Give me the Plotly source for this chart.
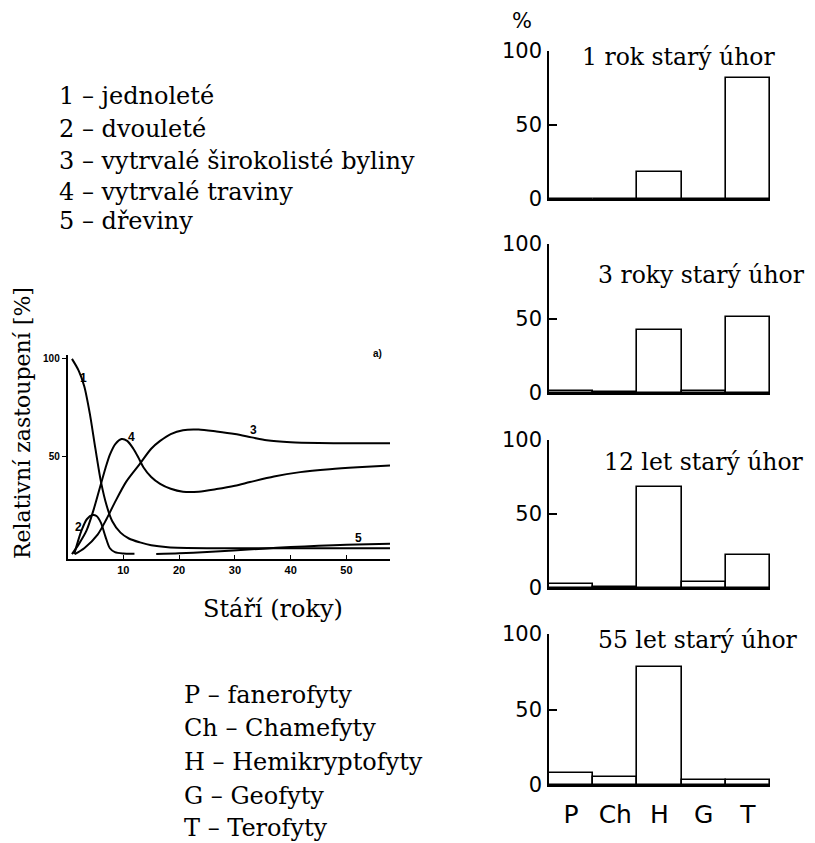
import plotly.graph_objects as go

W, H = 815, 843
OFF = 8  # page body margin
def px(x): return (x - OFF) / W
def py(y): return 1 - (y - OFF) / H

# ---- line chart data (years, relative %) ----
c1_x = [0.8, 2.0, 3.0, 4.0, 5.0, 6.0, 7.0, 8.0, 9.5, 11.0, 13.0, 15.0, 18.0, 25.0, 35.0, 45.0, 57.8]
c1_y = [100, 94, 86, 72, 54, 37, 25, 17, 11, 8, 6, 4.5, 3.5, 3, 3, 3, 3]
c2_x = [1.2, 2.5, 3.5, 4.5, 5.2, 6.0, 6.8, 7.6, 8.5, 10.0, 12.0]
c2_y = [0, 12, 18, 20, 19.5, 16, 9, 3, 1, 0.3, 0.2]
c3_x = [1.3, 3.0, 5.4, 7.0, 8.4, 10.5, 12.9, 15.0, 16.6, 18.5, 20.7, 23.5, 26.7, 30.0, 33.0, 35.7, 40.0, 45.0, 50.0, 57.8]
c3_y = [0, 3, 10, 18, 26, 37, 46, 54, 58, 61.5, 63.5, 63.8, 62.8, 61.5, 59.8, 58.3, 57.3, 56.9, 56.8, 56.8]
c4_x = [0.8, 2.0, 3.4, 4.6, 5.8, 6.8, 7.6, 8.6, 9.7, 10.7, 11.8, 12.7, 13.6, 15.0, 16.6, 18.5, 20.7, 23.5, 26.7, 30.0, 32.7, 37.0, 41.7, 47.0, 52.0, 57.8]
c4_y = [0, 5, 12, 22, 34, 44, 51, 56.5, 59, 58, 54, 49.5, 44.5, 39.5, 36, 33.5, 32, 32, 33.3, 35, 36.9, 39.8, 42, 43.5, 44.5, 45.4]
c5_x = [15.9, 20.0, 25.0, 29.7, 35.0, 40.0, 45.0, 50.0, 57.8]
c5_y = [0, 0.4, 1.1, 1.9, 2.8, 3.6, 4.3, 4.8, 5.3]

line_xticks = [10, 20, 30, 40, 50]
line_yticks = [50, 100]

# ---- bar chart data ----
categories = ["P", "Ch", "H", "G", "T"]
bars_1yr = [0, 0, 18, 0, 82]
bars_3yr = [1.5, 1, 42, 1.5, 51]
bars_12yr = [3, 1, 68, 4, 22]
bars_55yr = [8, 5.5, 78, 3, 3]
bar_titles = ["1 rok starý úhor", "3 roky starý úhor", "12 let starý úhor", "55 let starý úhor"]
bar_ticks = [0, 50, 100]

legend_life = ["1 – jednoleté", "2 – dvouleté", "3 – vytrvalé širokolisté byliny",
               "4 – vytrvalé traviny", "5 – dřeviny"]
legend_forms = ["P – fanerofyty", "Ch – Chamefyty", "H – Hemikryptofyty", "G – Geofyty", "T – Terofyty"]

SERIF = "DejaVu Serif"
SANS = "DejaVu Sans"

fig = go.Figure()

line_style = dict(color="black", width=2, shape="spline", smoothing=0.8)
for xs, ys in [(c1_x, c1_y), (c2_x, c2_y), (c3_x, c3_y), (c4_x, c4_y), (c5_x, c5_y)]:
    fig.add_trace(go.Scatter(x=xs, y=ys, mode="lines", line=line_style,
                             xaxis="x", yaxis="y", showlegend=False, hoverinfo="skip"))

bar_sets = [bars_1yr, bars_3yr, bars_12yr, bars_55yr]
for i, vals in enumerate(bar_sets):
    n = i + 2
    fig.add_trace(go.Bar(x=categories, y=vals, width=1.0,
                         marker=dict(color="white", line=dict(color="black", width=1.6)),
                         xaxis=f"x{n}", yaxis=f"y{n}", showlegend=False, hoverinfo="skip"))

layout = dict(
    width=W, height=H, margin=dict(l=0, r=0, t=0, b=0, autoexpand=False),
    template="none",
    paper_bgcolor="white", plot_bgcolor="rgba(0,0,0,0)",
    bargap=0, showlegend=False,
    xaxis=dict(domain=[px(67.5), px(390)], range=[0, 57.8], showline=True, linecolor="black",
               linewidth=1.5, ticks="inside", ticklen=4, tickcolor="black", tickvals=line_xticks,
               tickfont=dict(family="Liberation Sans", size=11, color="black", weight="bold"),
               showgrid=False, zeroline=False, anchor="y", automargin=False),
    yaxis=dict(domain=[py(559), py(355)], range=[-2.5, 102], showline=True, linecolor="black",
               linewidth=1.5, ticks="outside", ticklen=4, tickcolor="black", tickvals=line_yticks,
               tickfont=dict(family="Liberation Sans", size=10, color="black", weight="bold"),
               showgrid=False, zeroline=False, anchor="x", automargin=False),
)

bar_domains = [(51, 199), (244, 393), (440, 588), (634, 785)]
for i, (top, bot) in enumerate(bar_domains):
    n = i + 2
    last = (i == 3)
    layout[f"xaxis{n}"] = dict(domain=[px(549), px(770)], range=[-0.5, 4.5], anchor=f"y{n}",
                               showline=True, linecolor="black", linewidth=1.6, ticks="",
                               showticklabels=last, showgrid=False, zeroline=False,
                               tickfont=dict(family=SANS, size=25, color="black"),
                               ticklabelstandoff=6, type="category", automargin=False)
    layout[f"yaxis{n}"] = dict(domain=[py(bot), py(top)], range=[0, 100], anchor=f"x{n}",
                               showline=True, linecolor="black", linewidth=1.6, ticks="inside",
                               ticklen=8, tickcolor="black", tickwidth=1.6, tickvals=bar_ticks,
                               tickfont=dict(family=SANS, size=21, color="black"),
                               ticklabelstandoff=1, showgrid=False, zeroline=False, automargin=False)

fig.update_layout(**layout)

def note(text, x, y, size, family=SERIF, xanchor="center", angle=0):
    return dict(text=text, x=px(x), y=py(y), xref="paper", yref="paper", showarrow=False,
                xanchor=xanchor, yanchor="middle", textangle=angle,
                font=dict(family=family, size=size, color="black"))

ann = []
# curve labels
for t, x, y in [("1", 2.9, 90), ("2", 1.9, 14), ("3", 33.4, 63.5), ("4", 11.4, 60), ("5", 52.2, 8.2)]:
    ann.append(dict(text=f"<b>{t}</b>", x=x, y=y, xref="x", yref="y", showarrow=False,
                    xanchor="center", yanchor="middle",
                    font=dict(family="Liberation Sans", size=12, color="black")))
ann.append(note("<b>a)</b>", 377, 353, 10, family="Liberation Sans"))
# axis titles
ann.append(note("Relativní zastoupení [%]", 22, 423, 22, angle=-90))
ann.append(note("Stáří (roky)", 273, 609, 24))
# legend top-left
for t, y in zip(legend_life, [96, 129, 161, 192, 221]):
    ann.append(note(t, 57, y, 24, xanchor="left"))
# legend bottom
for t, y in zip(legend_forms, [695, 728, 762, 796, 828]):
    ann.append(note(t, 182, y, 24, xanchor="left"))
# bar titles
for t, x, y in zip(bar_titles, [678, 701, 704, 698], [57, 275, 462, 640]):
    ann.append(note(t, x, y, 23.5))
ann.append(note("%", 522, 21, 21, family=SANS))
fig.update_layout(annotations=ann)

fig.write_html("out.html")
